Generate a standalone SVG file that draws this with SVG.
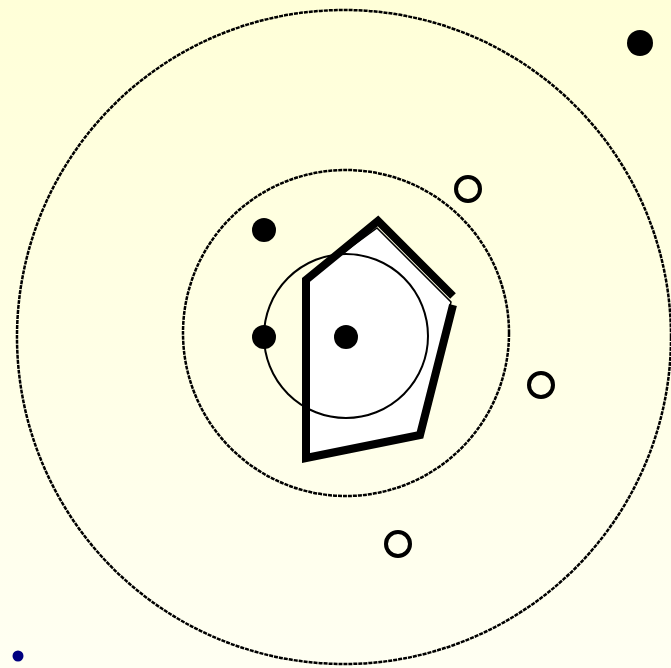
<svg xmlns="http://www.w3.org/2000/svg" width="671" height="668" viewBox="0 0 671 668">
<defs>
<linearGradient id="bg" x1="0" y1="0" x2="0" y2="1">
<stop offset="0" stop-color="#FFFFD8"/>
<stop offset="1" stop-color="#FFFFF2"/>
</linearGradient>
<style>
.dash{fill:none;stroke:#000;stroke-width:2.5;stroke-dasharray:4,1}
.dot{fill:#000}
.ring{fill:none;stroke:#000;stroke-width:4}
</style>
</defs>
<rect width="671" height="668" fill="url(#bg)"/>
<g id="outer-circle"><circle class="dash" cx="344" cy="337" r="327"/></g>
<g id="middle-circle"><circle class="dash" cx="346" cy="333" r="163"/></g>
<g id="polygon">
<polygon points="377,228 451,302 420,435 306,458 306,280" fill="#fff" stroke="#000" stroke-width="1.5"/>
<polyline points="453,305 420,435 306,458 306,280 378,221 453,296" fill="none" stroke="#000" stroke-width="8" stroke-linejoin="miter"/>
</g>
<g id="inner-circle"><circle cx="346" cy="336" r="82" fill="none" stroke="#000" stroke-width="2"/></g>
<g id="dot1"><circle class="dot" cx="640" cy="43" r="13"/></g>
<g id="dot2"><circle class="dot" cx="264" cy="230" r="12"/></g>
<g id="dot3"><circle class="dot" cx="264" cy="337" r="12"/></g>
<g id="dot4"><circle class="dot" cx="346" cy="337" r="12"/></g>
<g id="ring1"><circle class="ring" cx="468" cy="189" r="12"/></g>
<g id="ring2"><circle class="ring" cx="541" cy="385" r="12"/></g>
<g id="ring3"><circle class="ring" cx="398" cy="544" r="12"/></g>
<g id="small-dot"><circle cx="18" cy="656" r="5.5" fill="#000080"/></g>
<g id="connectors"/>
</svg>
